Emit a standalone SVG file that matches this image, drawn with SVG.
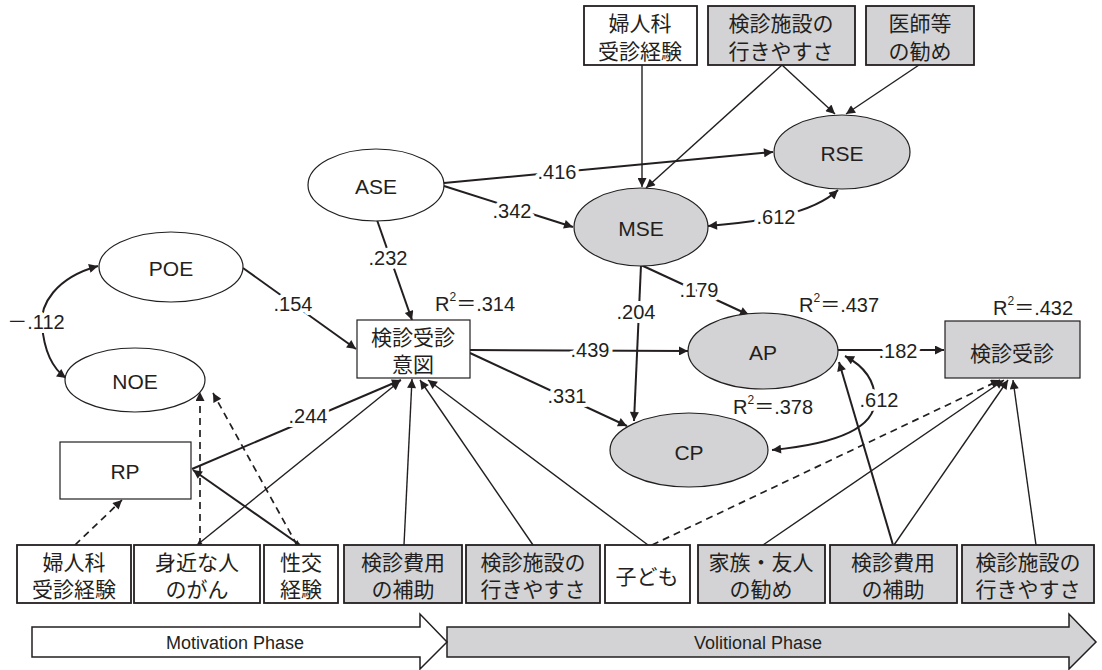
<svg xmlns="http://www.w3.org/2000/svg" width="1102" height="670" viewBox="0 0 1102 670">
<defs>
<marker id="ah" viewBox="0 0 10 10" refX="10" refY="5" markerWidth="12" markerHeight="9" markerUnits="userSpaceOnUse" orient="auto-start-reverse"><path d="M0,0 L10,5 L0,10 z" fill="#231f20"/></marker>
<marker id="sm" viewBox="0 0 10 10" refX="10" refY="5" markerWidth="6" markerHeight="5" markerUnits="userSpaceOnUse" orient="auto-start-reverse"><path d="M0,0 L10,5 L0,10 z" fill="#231f20"/></marker>
<style>
.box{stroke:#231f20;stroke-width:1.8}
.w{fill:#fff}
.g{fill:#d3d3d5}
.el{stroke:#231f20;stroke-width:1.2}
.jp{font-family:"Noto Sans CJK JP",sans-serif;font-size:21px;fill:#231f20;text-anchor:middle;dominant-baseline:central}
.la{font-family:"Liberation Sans","Noto Sans CJK JP",sans-serif;font-size:20px;fill:#231f20;dominant-baseline:central}
.nm{font-size:21px}
.mid{text-anchor:middle}
.lbl{stroke:#fff;stroke-width:8;stroke-linejoin:round;paint-order:stroke}
.c{fill:none;stroke:#231f20;stroke-width:1.4}
.t{stroke-width:2}
.d{stroke-dasharray:7 5;stroke-width:1.7}
.ph{font-family:"Liberation Sans",sans-serif;font-size:18px;fill:#231f20;text-anchor:middle;dominant-baseline:central}
</style>
</defs>

<g id="phases">
<polygon points="447,627 1069,627 1069,614 1096,642 1069,669 1069,657 447,657" fill="#d3d3d5" stroke="#231f20" stroke-width="1.5"/>
<polygon points="32,627 420,627 420,614 447,642 420,669 420,657 32,657" fill="#fff" stroke="#231f20" stroke-width="1.5"/>
<text class="ph" x="235" y="643">Motivation Phase</text>
<text class="ph" x="758" y="643">Volitional Phase</text>
</g>

<g id="connectors">
<path class="c" d="M642 65 L642 187" marker-end="url(#ah)"/>
<path class="c" d="M782 65 L646 188" marker-end="url(#ah)"/>
<path class="c" d="M782 65 L835 114" marker-end="url(#ah)"/>
<path class="c" d="M919 65 L846 114" marker-end="url(#ah)"/>
<path class="c t" d="M444 183 L773 152" marker-end="url(#ah)"/>
<path class="c t" d="M444 186 L573 227" marker-end="url(#ah)"/>
<path class="c t" d="M708 226 C760 222 812 214 838 190" marker-start="url(#ah)" marker-end="url(#ah)"/>
<path class="c t" d="M377 220 L412 320" marker-end="url(#ah)"/>
<path class="c t" d="M243 268 L356 349" marker-end="url(#ah)"/>
<path class="c t" d="M98 266 C55 278 40 305 42 325 C44 350 52 368 66 378" marker-start="url(#ah)" marker-end="url(#ah)"/>
<path class="c t" d="M192 469 L401 380" marker-end="url(#ah)"/>
<path class="c t" d="M300 545 L193 470" marker-start="url(#sm)" marker-end="url(#ah)"/>
<path class="c" d="M197 545 L400 381" marker-start="url(#sm)" marker-end="url(#ah)"/>
<path class="c d" d="M75 545 L122 500" marker-end="url(#ah)"/>
<path class="c d" d="M200 545 L200 392" marker-end="url(#ah)"/>
<path class="c d" d="M297 545 L213 393" marker-end="url(#ah)"/>
<path class="c" d="M404 545 L412 379" marker-end="url(#ah)"/>
<path class="c" d="M533 545 L420 380" marker-end="url(#ah)"/>
<path class="c" d="M648 545 L428 380" marker-end="url(#ah)"/>
<path class="c t" d="M470 350 L688 351" marker-end="url(#ah)"/>
<path class="c t" d="M470 353 L627 426" marker-end="url(#ah)"/>
<path class="c t" d="M641 265 L749 315" marker-end="url(#ah)"/>
<path class="c t" d="M641 265 L634 421" marker-end="url(#ah)"/>
<path class="c t" d="M838 350 L944 350" marker-end="url(#ah)"/>
<path class="c t" d="M845 356 Q875 372 875 400 Q875 440 772 450" marker-start="url(#ah)" marker-end="url(#ah)"/>
<path class="c t" d="M893 545 L839 362" marker-end="url(#ah)"/>
<path class="c d" d="M652 545 L1000 380" marker-end="url(#ah)"/>
<path class="c" d="M763 545 L1004 380" marker-end="url(#ah)"/>
<path class="c" d="M894 545 L1008 380" marker-end="url(#ah)"/>
<path class="c" d="M1036 545 L1013 380" marker-end="url(#ah)"/>
<text class="la lbl mid" x="557" y="172">.416</text>
<text class="la lbl mid" x="512" y="211">.342</text>
<text class="la lbl mid" x="776" y="217">.612</text>
<text class="la lbl mid" x="388" y="258">.232</text>
<text class="la lbl mid" x="293" y="304">.154</text>
<text class="la lbl mid" x="36" y="322">－.112</text>
<text class="la lbl mid" x="308" y="416">.244</text>
<text class="la lbl mid" x="590" y="350">.439</text>
<text class="la lbl mid" x="567" y="396">.331</text>
<text class="la lbl mid" x="699" y="290">.179</text>
<text class="la lbl mid" x="636" y="312">.204</text>
<text class="la lbl mid" x="898" y="351">.182</text>
<text class="la lbl mid" x="879" y="400">.612</text>
</g>

<g id="top-fujinka"><rect class="box w" x="584" y="6" width="113" height="59"/><text class="jp" x="640" y="22">婦人科<tspan x="640" dy="28">受診経験</tspan></text></g>
<g id="top-shisetsu"><rect class="box g" x="708" y="6" width="147" height="59"/><text class="jp" x="781" y="22">検診施設の<tspan x="781" dy="28">行きやすさ</tspan></text></g>
<g id="top-ishi"><rect class="box g" x="866" y="6" width="108" height="59"/><text class="jp" x="920" y="22">医師等<tspan x="920" dy="28">の勧め</tspan></text></g>

<g id="ASE"><ellipse class="el w" cx="376" cy="185" rx="68" ry="36"/><text class="la nm mid" x="376" y="186">ASE</text></g>
<g id="MSE"><ellipse class="el g" cx="641" cy="227" rx="67" ry="39"/><text class="la nm mid" x="641" y="228">MSE</text></g>
<g id="RSE"><ellipse class="el g" cx="842" cy="152" rx="68" ry="37"/><text class="la nm mid" x="842" y="153">RSE</text></g>
<g id="POE"><ellipse class="el w" cx="171" cy="267" rx="72" ry="35"/><text class="la nm mid" x="171" y="268">POE</text></g>
<g id="NOE"><ellipse class="el w" cx="135" cy="380" rx="70" ry="32"/><text class="la nm mid" x="135" y="381">NOE</text></g>
<g id="AP"><ellipse class="el g" cx="763" cy="351" rx="75" ry="38"/><text class="la nm mid" x="763" y="352">AP</text></g>
<g id="CP"><ellipse class="el g" cx="689" cy="450" rx="79" ry="37"/><text class="la nm mid" x="689" y="452">CP</text></g>
<g id="RP"><rect class="box w" x="60" y="442" width="131" height="57" style="stroke-width:1.2"/><text class="la nm mid" x="125" y="471">RP</text></g>

<g id="ito"><rect class="box w" x="357" y="320" width="113" height="58" style="stroke-width:1.2"/><text class="jp" x="413" y="336">検診受診<tspan x="413" dy="27">意図</tspan></text>
<text class="la" x="435" y="304">R<tspan font-size="12" dy="-7">2</tspan><tspan dy="7">＝.314</tspan></text></g>
<g id="jushin"><rect class="box g" x="945" y="321" width="135" height="57" style="stroke-width:1.2"/><text class="jp" x="1012" y="352">検診受診</text>
<text class="la" x="993" y="308">R<tspan font-size="12" dy="-7">2</tspan><tspan dy="7">＝.432</tspan></text></g>
<g id="r2-AP"><text class="la" x="799" y="305">R<tspan font-size="12" dy="-7">2</tspan><tspan dy="7">＝.437</tspan></text></g>
<g id="r2-CP"><text class="la" x="733" y="407">R<tspan font-size="12" dy="-7">2</tspan><tspan dy="7">＝.378</tspan></text></g>

<g id="b-fujinka"><rect class="box w" x="17" y="545" width="114" height="58"/><text class="jp" x="74" y="561">婦人科<tspan x="74" dy="27">受診経験</tspan></text></g>
<g id="b-mijika"><rect class="box w" x="134" y="545" width="126" height="58"/><text class="jp" x="197" y="561">身近な人<tspan x="197" dy="27">のがん</tspan></text></g>
<g id="b-seiko"><rect class="box w" x="264" y="545" width="74" height="58"/><text class="jp" x="301" y="561">性交<tspan x="301" dy="27">経験</tspan></text></g>
<g id="b-hiyo1"><rect class="box g" x="344" y="545" width="118" height="58"/><text class="jp" x="403" y="561">検診費用<tspan x="403" dy="27">の補助</tspan></text></g>
<g id="b-shisetsu1"><rect class="box g" x="466" y="545" width="134" height="58"/><text class="jp" x="533" y="561">検診施設の<tspan x="533" dy="27">行きやすさ</tspan></text></g>
<g id="b-kodomo"><rect class="box w" x="605" y="545" width="85" height="58"/><text class="jp" x="647" y="575">子ども</text></g>
<g id="b-kazoku"><rect class="box g" x="698" y="545" width="127" height="58"/><text class="jp" x="761" y="561">家族・友人<tspan x="761" dy="27">の勧め</tspan></text></g>
<g id="b-hiyo2"><rect class="box g" x="830" y="545" width="127" height="58"/><text class="jp" x="893" y="561">検診費用<tspan x="893" dy="27">の補助</tspan></text></g>
<g id="b-shisetsu2"><rect class="box g" x="962" y="545" width="132" height="58"/><text class="jp" x="1028" y="561">検診施設の<tspan x="1028" dy="27">行きやすさ</tspan></text></g>
</svg>
